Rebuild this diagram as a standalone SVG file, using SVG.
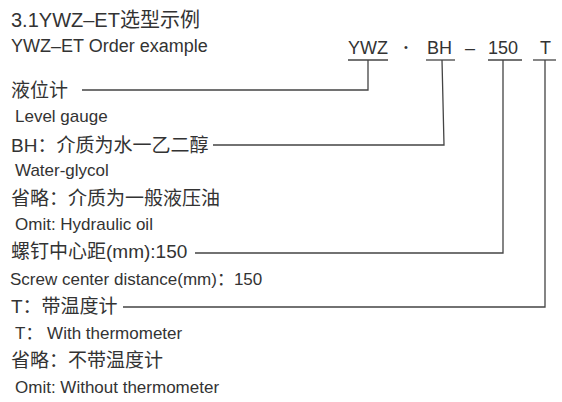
<svg xmlns="http://www.w3.org/2000/svg" width="562" height="402" viewBox="0 0 562 402">
<style>
text{font-family:"Liberation Sans","Noto Sans CJK SC",sans-serif;fill:#333;}
.t{font-size:20px;}
.s{font-size:18px;}
.c{font-size:19px;}
.e{font-size:17px;}
.code{font-size:18px;}
.ln{fill:none;stroke:#444;stroke-width:1.3;}
</style>
<rect width="562" height="402" fill="#fff"/>
<g id="title">
<text class="t" x="11" y="27">3.1YWZ–ET选型示例</text>
<text class="s" x="11" y="52">YWZ–ET Order example</text>
</g>
<g id="code">
<text class="code" x="348" y="54">YWZ</text>
<text x="406" y="51" font-size="11" text-anchor="middle">•</text>
<text class="code" x="427" y="54">BH</text>
<text class="code" x="465" y="54">–</text>
<text class="code" x="488" y="54">150</text>
<text class="code" x="540" y="54">T</text>
<line class="ln" x1="348" y1="60" x2="388" y2="60"/>
<line class="ln" x1="426" y1="60" x2="455" y2="60"/>
<line class="ln" x1="488" y1="60" x2="522" y2="60"/>
<line class="ln" x1="533" y1="60" x2="556" y2="60"/>
</g>
<g id="n-level">
<text class="c" x="11" y="97">液位计</text>
<text class="e" x="15" y="122">Level gauge</text>
</g>
<g id="n-bh">
<text class="c" x="11" y="152">BH：介质为水一乙二醇</text>
<text class="e" x="15" y="176">Water-glycol</text>
<text class="c" x="11" y="205">省略：介质为一般液压油</text>
<text class="e" x="15" y="230">Omit: Hydraulic oil</text>
</g>
<g id="n-150">
<text class="c" x="11" y="258">螺钉中心距(mm):150</text>
<text class="e" x="10" y="285">Screw center distance(mm)：150</text>
</g>
<g id="n-t">
<text class="c" x="11" y="313">T：带温度计</text>
<text class="e" x="15" y="339">T： With thermometer</text>
<text class="c" x="11" y="367">省略：不带温度计</text>
<text class="e" x="15" y="393">Omit: Without thermometer</text>
</g>
<g id="connectors">
<polyline class="ln" points="82,90 368,90 368,60"/>
<polyline class="ln" points="213,145 444,145 442,60"/>
<polyline class="ln" points="195,253 503,253 503,60"/>
<polyline class="ln" points="123,307 545,307 545,60"/>
</g>
</svg>
